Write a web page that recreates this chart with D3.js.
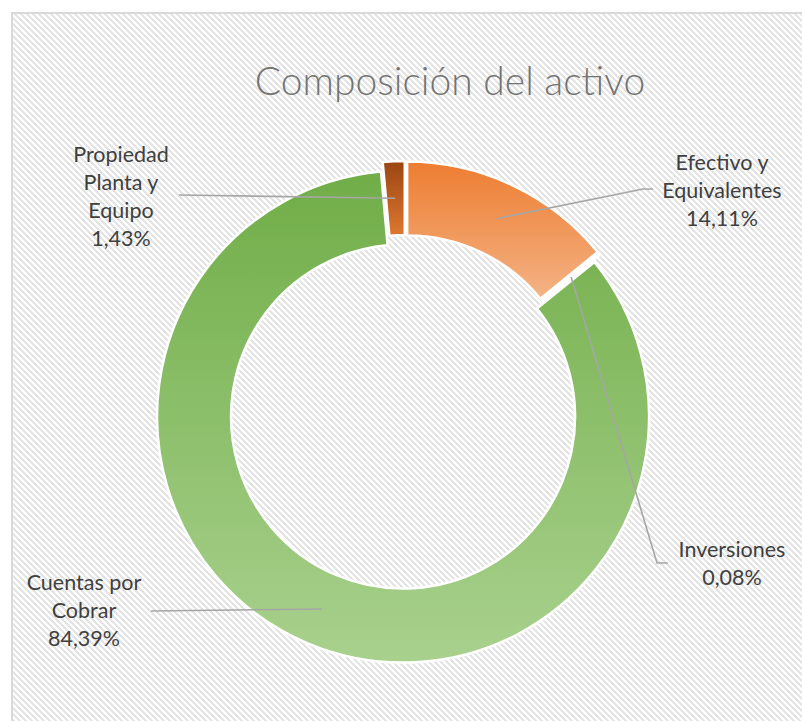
<!DOCTYPE html>
<html>
<head>
    <meta charset="utf-8">
    <title>Composición del activo</title>
    <script src="https://d3js.org/d3.v7.min.js"></script>
    <style>
        body { margin: 0; background: #fff; }
        .label text { font-family: Lato, "Open Sans", sans-serif; font-size: 21.5px; fill: #404040; }
        .leader { fill: none; stroke: #a6a6a6; stroke-width: 1.6px; }
    </style>
</head>
<body>
    <div id="chart"></div>

    <script>
        // chart data
        const categories = ["Efectivo y Equivalentes", "Inversiones", "Cuentas por Cobrar", "Propiedad Planta y Equipo"];
        const values = [14.11, 0.08, 84.39, 1.43];
        const labelLines = [["Efectivo y", "Equivalentes"], ["Inversiones"], ["Cuentas por", "Cobrar"], ["Propiedad", "Planta y", "Equipo"]];

        // gradient colours per slice (top, bottom)
        const colors = [["#ED7D31", "#F4B385"], ["#A5A5A5", "#C9C9C9"], ["#70AD47", "#A9D18E"], ["#9A4512", "#DE7831"]];

        // label layout: text centre, first baseline, leader end (+ elbow)
        const labelPos = [
            { x: 722, y: 170, line: [[643, 189], [653, 189]] },
            { x: 732, y: 557, line: [[657, 563], [668, 563]] },
            { x: 84, y: 590, line: [[151, 611]] },
            { x: 121, y: 162, line: [[179, 195]] }
        ];

        const width = 802, height = 721;
        const cx = 405, cy = 412, outerR = 246, innerR = 172, explode = 5;
        const lineH = 28;

        const svg = d3.select("#chart").append("svg")
            .attr("width", width)
            .attr("height", height);

        const defs = svg.append("defs");

        // diagonal hatch background
        const pat = defs.append("pattern")
            .attr("id", "hatch")
            .attr("patternUnits", "userSpaceOnUse")
            .attr("width", 6).attr("height", 6);
        pat.append("rect").attr("width", 6).attr("height", 6).attr("fill", "#fff");
        for (let y = 0; y < 6; y++) {
            for (let x = 0; x < 6; x++) {
                if ((x - y + 6) % 6 < 3) {
                    pat.append("rect").attr("x", x).attr("y", y)
                        .attr("width", 1).attr("height", 1)
                        .attr("fill", "#e4e4e4")
                        .attr("shape-rendering", "crispEdges");
                }
            }
        }

        svg.append("rect")
            .attr("x", 12).attr("y", 13)
            .attr("width", 810).attr("height", 730)
            .attr("fill", "url(#hatch)")
            .attr("stroke", "#d9d9d9")
            .attr("stroke-width", 2);

        // title
        svg.append("text")
            .attr("x", 450).attr("y", 95)
            .attr("text-anchor", "middle")
            .style("font-family", "Lato, 'Open Sans', sans-serif")
            .style("font-weight", 300)
            .style("font-size", "39px")
            .style("fill", "#737373")
            .text("Composición del activo");

        // slice gradients
        colors.forEach((c, i) => {
            const g = defs.append("linearGradient")
                .attr("id", "grad" + i)
                .attr("x1", 0).attr("y1", 0).attr("x2", 0).attr("y2", 1);
            g.append("stop").attr("offset", "0%").attr("stop-color", c[0]);
            g.append("stop").attr("offset", "100%").attr("stop-color", c[1]);
        });

        const pie = d3.pie().sort(null).value(d => d);
        const arcs = pie(values);

        const arc = d3.arc().innerRadius(innerR).outerRadius(outerR);
        const midArc = d3.arc().innerRadius((innerR + outerR) / 2 + explode).outerRadius((innerR + outerR) / 2 + explode);

        function shift(d) {
            const a = (d.startAngle + d.endAngle) / 2;
            return [Math.sin(a) * explode, -Math.cos(a) * explode];
        }

        const donut = svg.append("g").attr("transform", `translate(${cx},${cy})`);

        donut.selectAll("path.slice")
            .data(arcs)
            .join("path")
            .attr("class", "slice")
            .attr("d", arc)
            .attr("transform", d => `translate(${shift(d)})`)
            .attr("fill", (d, i) => `url(#grad${i})`)
            .attr("stroke", "#fff")
            .attr("stroke-width", 2.5)
            .attr("stroke-linejoin", "round");

        // leader lines
        const fmt = v => d3.format(".2f")(v).replace(".", ",") + "%";

        arcs.forEach((d, i) => {
            const c = midArc.centroid(d);
            const pts = [[cx + c[0], cy + c[1]]].concat(labelPos[i].line);
            svg.append("path")
                .attr("class", "leader")
                .attr("d", d3.line()(pts));
        });

        // labels
        arcs.forEach((d, i) => {
            const lines = labelLines[i].concat([fmt(values[i])]);
            const g = svg.append("g").attr("class", "label");
            lines.forEach((t, k) => {
                g.append("text")
                    .attr("x", labelPos[i].x)
                    .attr("y", labelPos[i].y + k * lineH)
                    .attr("text-anchor", "middle")
                    .text(t);
            });
        });
    </script>
</body>
</html>
